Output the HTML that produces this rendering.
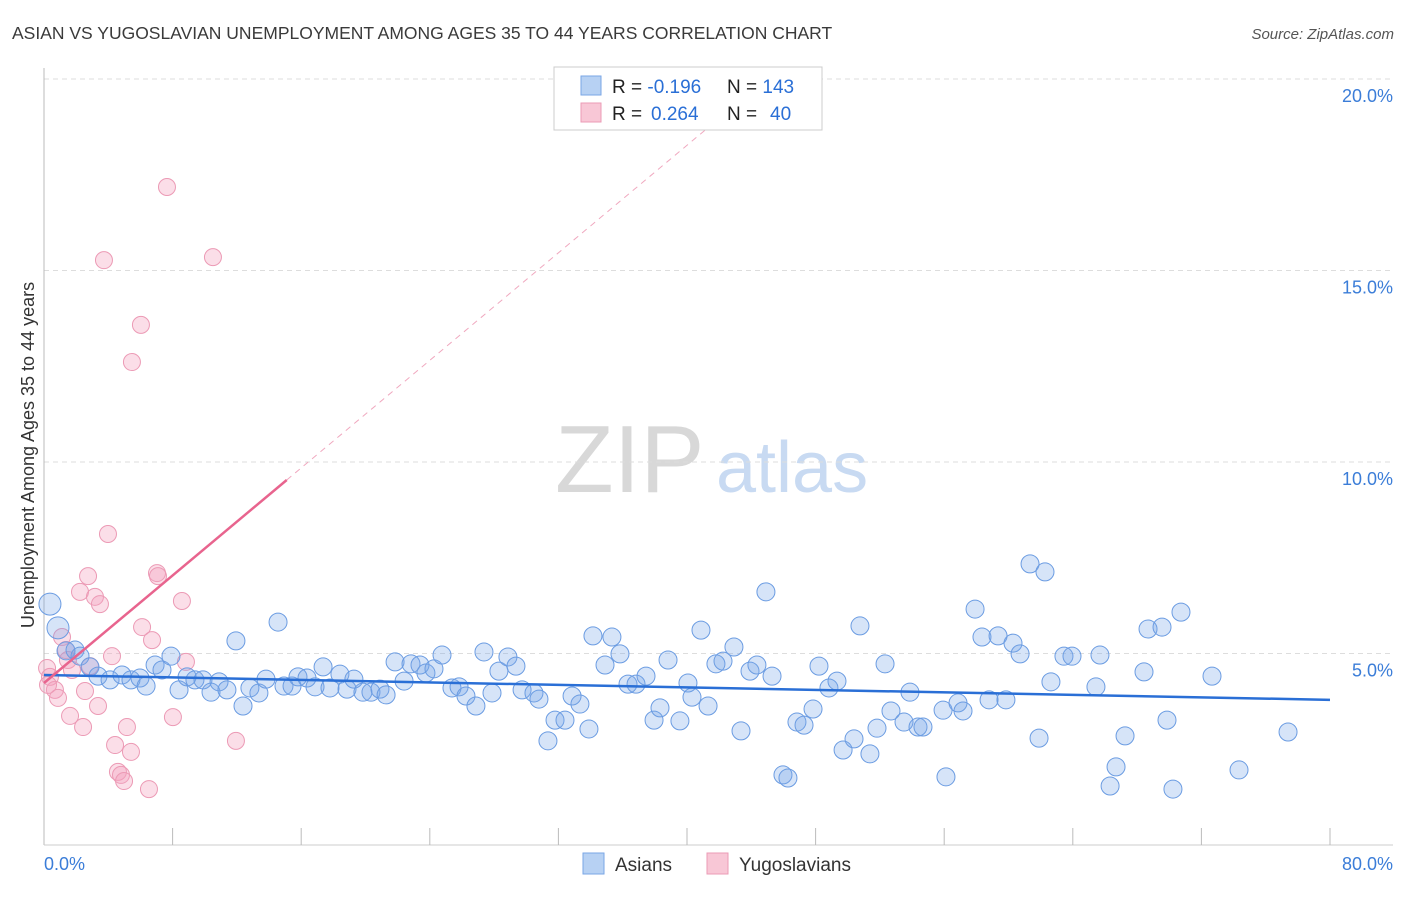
<!DOCTYPE html>
<html><head><meta charset="utf-8"><style>
body{margin:0;background:#fff;font-family:"Liberation Sans",sans-serif;}
svg text{font-family:"Liberation Sans",sans-serif;}
</style></head><body>
<svg width="1406" height="892" xmlns="http://www.w3.org/2000/svg">
<text x="12" y="39" font-size="17.5" fill="#3a3a3a">ASIAN VS YUGOSLAVIAN UNEMPLOYMENT AMONG AGES 35 TO 44 YEARS CORRELATION CHART</text>
<text x="1394" y="39" font-size="15" fill="#555" font-style="italic" text-anchor="end">Source: ZipAtlas.com</text>
<text x="555" y="492" font-size="96" fill="#d8d8d8" font-family="Liberation Serif,serif">ZIP</text>
<text x="716" y="492" font-size="72" fill="#c8daf2">atlas</text>
<g id="grid"></g>
<g id="axes"></g>
<g id="marks"></g>
<text transform="translate(34,455) rotate(-90)" font-size="18" fill="#333" text-anchor="middle">Unemployment Among Ages 35 to 44 years</text>
<g>
<rect x="554" y="67" width="268" height="63" fill="#fff" stroke="#ccc"/>
<rect x="581" y="76" width="20" height="19" fill="#b7d1f3" stroke="#7aa6e6"/>
<rect x="581" y="103" width="20" height="19" fill="#f8c7d6" stroke="#eb9bb6"/>
<text x="612" y="93" font-size="19" fill="#222">R = <tspan fill="#2a6fd6">-0.196</tspan><tspan x="727">N = </tspan><tspan fill="#2a6fd6">143</tspan></text>
<text x="612" y="120" font-size="19" fill="#222">R = <tspan fill="#2a6fd6" x="651">0.264</tspan><tspan x="727">N = </tspan><tspan fill="#2a6fd6" x="770">40</tspan></text>
</g>
<g>
<rect x="583" y="853" width="21" height="21" fill="#b7d1f3" stroke="#7aa6e6"/>
<text x="615" y="871" font-size="19" fill="#333">Asians</text>
<rect x="707" y="853" width="21" height="21" fill="#f8c7d6" stroke="#eb9bb6"/>
<text x="739" y="871" font-size="19" fill="#333">Yugoslavians</text>
</g>
</svg>
<script>
const yTicks=[5,10,15,20];
const yTickLabels=["5.0%","10.0%","15.0%","20.0%"];
const xTicks=[8,16,24,32,40,48,56,64,72,80];
const xLabels=["0.0%","80.0%"];
const asianX=[0.37,0.87,1.37,1.93,2.24,2.86,3.36,4.11,4.85,5.41,5.97,6.35,6.91,7.34,7.90,8.40,8.90,9.39,9.89,10.39,10.89,11.38,11.94,12.38,12.81,13.37,13.81,14.56,14.93,15.43,15.80,16.36,16.86,17.36,17.79,18.41,18.85,19.28,19.84,20.34,20.90,21.28,21.84,22.40,22.83,23.39,23.76,24.26,24.76,25.38,25.82,26.25,26.87,27.37,27.87,28.30,28.86,29.36,29.74,30.48,30.79,31.35,31.79,32.41,32.85,33.34,33.90,34.15,34.90,35.33,35.83,36.33,36.83,37.45,37.95,38.32,38.82,39.56,40.06,40.31,40.87,41.31,41.80,42.24,42.92,43.36,43.92,44.35,44.91,45.29,45.97,46.28,46.84,47.28,47.84,48.21,48.83,49.33,49.71,50.39,50.76,51.38,51.82,52.32,52.69,53.50,53.87,54.37,54.68,55.93,56.11,56.86,57.17,57.92,58.35,58.79,59.35,59.84,60.28,60.72,61.34,62.27,61.90,62.64,63.45,63.95,65.44,65.69,66.32,66.69,67.25,68.43,68.68,69.55,69.86,70.23,70.73,72.66,74.34,77.39];
const asianY=[6.29,5.67,5.07,5.09,4.93,4.65,4.41,4.31,4.44,4.31,4.36,4.15,4.70,4.57,4.93,4.05,4.39,4.31,4.31,3.99,4.26,4.05,5.33,3.63,4.10,3.97,4.33,5.82,4.15,4.15,4.39,4.36,4.13,4.65,4.10,4.46,4.07,4.33,3.99,3.99,4.07,3.92,4.78,4.28,4.73,4.70,4.49,4.60,4.96,4.10,4.13,3.89,3.63,5.04,3.97,4.54,4.91,4.67,4.05,3.97,3.81,2.72,3.26,3.26,3.89,3.68,3.03,5.46,4.70,5.43,4.99,4.20,4.20,4.41,3.26,3.58,4.83,3.24,4.23,3.86,5.61,3.63,4.73,4.80,5.17,2.98,4.54,4.70,6.61,4.41,1.83,1.75,3.21,3.13,3.55,4.67,4.10,4.28,2.48,2.77,5.72,2.38,3.05,4.73,3.50,3.21,3.99,3.08,3.08,3.52,1.78,3.71,3.50,6.16,5.43,3.79,5.46,3.79,5.27,4.99,7.34,7.13,2.79,4.26,4.93,4.93,4.13,4.96,1.54,2.04,2.85,4.52,5.64,5.69,3.26,1.46,6.08,4.41,1.96,2.95];
const yugoX=[0.19,0.37,0.68,0.87,1.12,1.37,1.49,1.62,1.74,2.24,2.43,2.55,2.74,2.86,3.17,3.36,3.48,3.98,4.23,4.42,4.60,4.79,4.98,5.16,5.41,5.47,6.03,6.10,6.53,6.72,7.03,7.09,7.65,8.02,8.58,8.83,3.73,10.51,11.94,0.25];
const yugoY=[4.62,4.39,4.05,3.84,5.43,5.09,4.83,3.37,4.57,6.61,3.08,4.02,7.02,4.67,6.48,3.63,6.29,8.12,4.93,2.61,1.91,1.83,1.67,3.08,2.43,12.61,13.58,5.69,1.46,5.35,7.10,7.02,17.18,3.34,6.37,4.78,15.27,15.35,2.72,4.18];
const asianTrend=[4.44,3.79]; // at x=0 and x=80
const yugoTrend=[4.23,0.351]; // intercept, slope
const yugoSolidEnd=15.1;

const NS="http://www.w3.org/2000/svg";
const X=v=>44+v/80*1286;
const Y=v=>845-v*38.3;
function mk(tag,attrs,parent){const e=document.createElementNS(NS,tag);for(const k in attrs)e.setAttribute(k,attrs[k]);document.getElementById(parent).appendChild(e);return e;}

yTicks.forEach((t,i)=>{
  const l=mk('line',{x1:44,x2:1393,y1:Y(t),y2:Y(t),stroke:'#ddd','stroke-dasharray':'5,4'},'grid');
  
  
  const tx=mk('text',{x:1393,y:Y(t)+23,'font-size':18,fill:'#3b7dd8','text-anchor':'end'},'grid');
  tx.textContent=yTickLabels[i];
  
  
});
const ax=mk('line',{x1:44,x2:44,y1:68,y2:845,stroke:'#bbb'},'axes');


const bx=mk('line',{x1:44,x2:1393,y1:845,y2:845,stroke:'#ccc'},'axes');


xTicks.forEach(t=>{
  const l=mk('line',{x1:X(t),x2:X(t),y1:828,y2:845,stroke:'#bbb'},'axes');
  
  
});
const xl0=mk('text',{x:44,y:870,'font-size':18,fill:'#3b7dd8'},'axes');
xl0.textContent=xLabels[0];


const xl1=mk('text',{x:1393,y:870,'font-size':18,fill:'#3b7dd8','text-anchor':'end'},'axes');
xl1.textContent=xLabels[1];



yugoX.forEach((v,i)=>{
  const c=mk('circle',{cx:X(v),cy:Y(yugoY[i]),r:8.5,fill:'rgba(244,160,188,0.35)',stroke:'#ec9ab5','stroke-width':1},'marks');
  
  
});
asianX.forEach((v,i)=>{
  const c=mk('circle',{cx:X(v),cy:Y(asianY[i]),r:(i<2?11:9),fill:'rgba(120,165,232,0.3)',stroke:'#6b9ce2','stroke-width':1},'marks');
  
  
});
const at=mk('line',{x1:X(0),y1:Y(asianTrend[0]),x2:X(80),y2:Y(asianTrend[1]),stroke:'#2a6fd6','stroke-width':2.5},'marks');


const yEndX=(20-yugoTrend[0])/yugoTrend[1];
const yd=mk('line',{x1:X(yugoSolidEnd),y1:Y(yugoTrend[0]+yugoTrend[1]*yugoSolidEnd),x2:X(yEndX),y2:Y(20),stroke:'#f0a8bf','stroke-width':1,'stroke-dasharray':'6,5'},'marks');


const ys=mk('line',{x1:X(0),y1:Y(yugoTrend[0]),x2:X(yugoSolidEnd),y2:Y(yugoTrend[0]+yugoTrend[1]*yugoSolidEnd),stroke:'#e8648e','stroke-width':2.5},'marks');


</script>
</body></html>
